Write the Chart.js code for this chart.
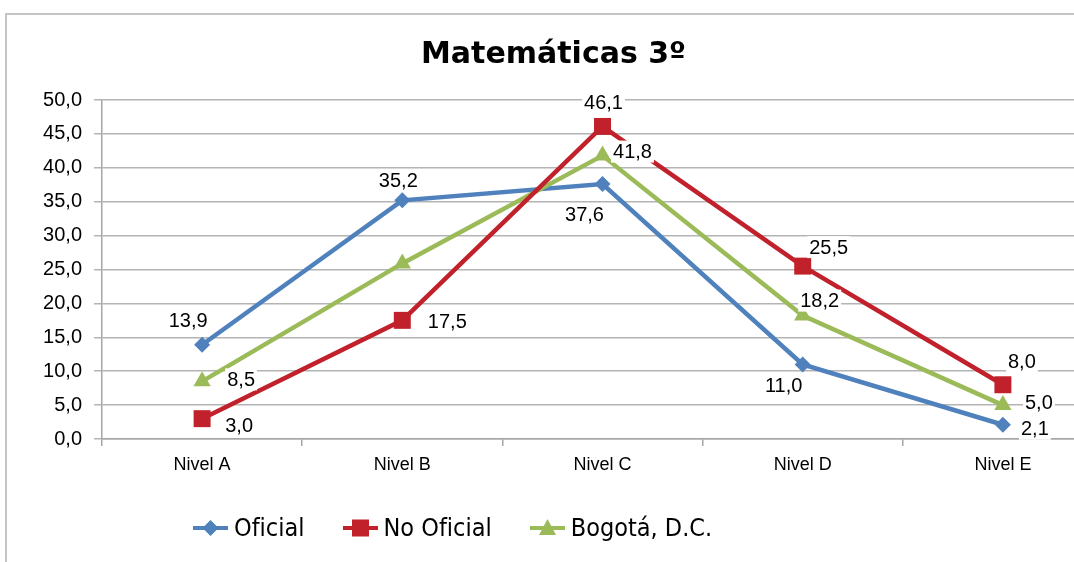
<!DOCTYPE html>
<html lang="es">
<head>
  <meta charset="UTF-8" />
  <title>Matemáticas 3º</title>
  <script src="https://cdn.jsdelivr.net/npm/chart.js"></script>
  <style>
    body {
      margin: 0;
      width: 1074px;
      height: 562px;
      overflow: hidden;
      background: #fff;
      position: relative;
    }
    .frame {
      position: absolute;
      left: 5px;
      top: 13px;
      width: 1200px;
      height: 560px;
      border: 2px solid #c4c4c4;
      box-sizing: border-box;
    }
    #chart {
      position: absolute;
      left: 0;
      top: 0;
    }
    .legend {
      position: absolute;
      left: 193px;
      top: 513px;
      display: flex;
      align-items: center;
      font-family: 'DejaVu Sans Condensed', 'Liberation Sans Narrow', sans-serif;
      font-stretch: condensed;
      font-size: 25px;
      color: #000;
    }
    .legend .item {
      display: flex;
      align-items: center;
      margin-right: 38px;
    }
    .legend svg {
      margin-right: 6px;
    }
  </style>
</head>
<body>
  <div class="frame"></div>
  <canvas id="chart" width="1115" height="562"></canvas>
  <div class="legend" id="legend"></div>

  <script>
    const niveles = ["Nivel A", "Nivel B", "Nivel C", "Nivel D", "Nivel E"];
    const oficial = [13.9, 35.2, 37.6, 11.0, 2.1];
    const noOficial = [3.0, 17.5, 46.1, 25.5, 8.0];
    const bogota = [8.5, 25.9, 41.8, 18.2, 5.0];
    const bogotaShowLabel = [true, false, true, true, true];

    const seriesNames = ["Oficial", "No Oficial", "Bogotá, D.C."];
    const colors = ["#4f81bd", "#c0212b", "#9bbb59"];
    const pointStyles = ["rectRot", "rect", "triangle"];

    // label offsets from each point (dx, dy), by series
    const labelOffsets = [
      [[-14, -24], [-4, -20], [-18, 30], [-19, 21], [32, 4]],
      [[37, 7], [45, 1], [1, -24], [26, -19], [19, -23]],
      [[39, -2], [0, 0], [30, -4], [17, -15], [36, -3]]
    ];

    const fmt = v => v.toFixed(1).replace(".", ",");

    const dataLabels = {
      id: "dataLabels",
      afterDatasetsDraw(chart) {
        const ctx = chart.ctx;
        ctx.save();
        ctx.font = "20px 'Liberation Sans', Arial, sans-serif";
        ctx.textAlign = "center";
        ctx.textBaseline = "middle";
        chart.data.datasets.forEach((ds, di) => {
          const meta = chart.getDatasetMeta(di);
          meta.data.forEach((pt, i) => {
            if (di === 2 && !bogotaShowLabel[i]) return;
            const txt = fmt(ds.data[i]);
            const x = pt.x + labelOffsets[di][i][0];
            const y = pt.y + labelOffsets[di][i][1];
            const w = ctx.measureText(txt).width;
            ctx.fillStyle = "#fff";
            ctx.fillRect(x - w / 2 - 2, y - 11, w + 4, 22);
            ctx.fillStyle = "#000";
            ctx.fillText(txt, x, y + 1);
          });
        });
        ctx.restore();
      }
    };

    const allSeries = [oficial, noOficial, bogota];
    const drawOrder = [3, 1, 2];

    new Chart(document.getElementById("chart"), {
      type: "line",
      data: {
        labels: niveles,
        datasets: allSeries.map((vals, i) => ({
          label: seriesNames[i],
          data: vals,
          borderColor: colors[i],
          backgroundColor: colors[i],
          borderWidth: 4.5,
          pointStyle: pointStyles[i],
          pointRadius: [8, 12, 10][i],
          pointBorderWidth: 0,
          tension: 0,
          order: drawOrder[i]
        }))
      },
      options: {
        responsive: false,
        animation: false,
        devicePixelRatio: 1,
        layout: { padding: { left: 0, right: 8, top: 0, bottom: 83 } },
        plugins: {
          legend: { display: false },
          tooltip: { enabled: false },
          title: {
            display: true,
            text: "Matemáticas 3º",
            color: "#000",
            font: { family: "'DejaVu Sans', sans-serif", size: 30, weight: "bold" },
            padding: { top: 37, bottom: 27 }
          }
        },
        scales: {
          y: {
            min: 0,
            max: 50,
            afterFit: s => { s.width = 102; },
            ticks: {
              stepSize: 5,
              callback: v => fmt(v),
              color: "#000",
              padding: 12,
              font: { family: "'Liberation Sans', Arial, sans-serif", size: 20 }
            },
            grid: { color: "#b4b4b4", lineWidth: 1.5, tickLength: 8 },
            border: { color: "#a6a6a6", width: 1.5 }
          },
          x: {
            offset: true,
            afterFit: s => { s.height = 40; },
            ticks: {
              color: "#000",
              padding: 8,
              font: { family: "'Liberation Sans', Arial, sans-serif", size: 18 }
            },
            grid: { offset: true, drawOnChartArea: false, tickLength: 7, color: "#a6a6a6", lineWidth: 1.5 },
            border: { color: "#a6a6a6", width: 1.5 }
          }
        }
      },
      plugins: [dataLabels]
    });

    // html legend
    function markerSvg(i) {
      const c = colors[i];
      let shape;
      if (i === 0) shape = `<polygon points="17.5,2 25.5,10 17.5,18 9.5,10" fill="${c}"/>`;
      else if (i === 1) shape = `<rect x="9" y="1.5" width="17" height="17" fill="${c}"/>`;
      else shape = `<polygon points="17.5,1 26,17 9,17" fill="${c}"/>`;
      return `<svg width="35" height="20"><rect x="0" y="8" width="35" height="4" fill="${c}"/>${shape}</svg>`;
    }
    const legend = document.getElementById("legend");
    seriesNames.forEach((name, i) => {
      const item = document.createElement("div");
      item.className = "item";
      item.innerHTML = markerSvg(i) + `<span>${name}</span>`;
      legend.appendChild(item);
    });
  </script>
</body>
</html>
